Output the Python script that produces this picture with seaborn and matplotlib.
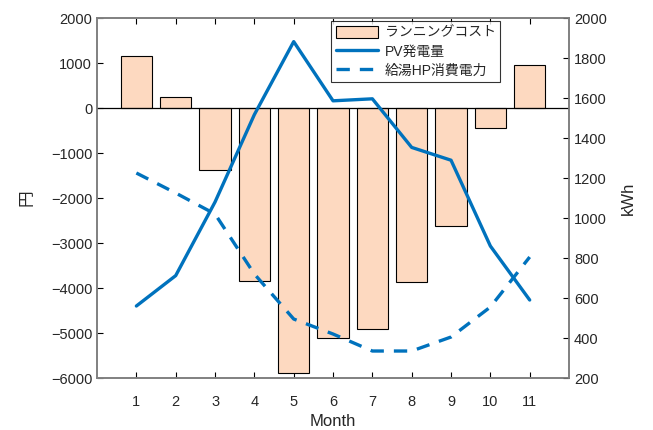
import matplotlib
matplotlib.use('Agg')
import matplotlib.pyplot as plt
import matplotlib.patches as mpatches
import matplotlib.lines as mlines
import seaborn as sns
import pandas as pd
import numpy as np

# data
months = [1, 2, 3, 4, 5, 6, 7, 8, 9, 10, 11]
running_cost = [1160, 250, -1370, -3850, -5880, -5120, -4900, -3870, -2630, -440, 960]   # 円
pv_kwh = [560, 712, 1080, 1517, 1882, 1586, 1596, 1353, 1289, 860, 590]                  # kWh
hp_kwh = [1225, 1125, 1020, 720, 495, 420, 335, 335, 405, 555, 805]                       # kWh

df = pd.DataFrame({'Month': months, 'cost': running_cost, 'pv': pv_kwh, 'hp': hp_kwh})

sns.set_style('white')
plt.rcParams['font.family'] = ['Liberation Sans', 'Noto Sans CJK JP', 'DejaVu Sans']

bar_color = '#FDD9C0'
line_color = '#0072BD'
spine_color = '#808080'

fig = plt.figure(figsize=(6.53, 4.30), dpi=100)
ax = fig.add_axes([0.1486, 0.1209, 0.7228, 0.8372])

sns.barplot(data=df, x='Month', y='cost', native_scale=True, width=0.8,
            color=bar_color, edgecolor='black', linewidth=0.8, saturation=1,
            errorbar=None, ax=ax)
ax.axhline(0, color='black', lw=0.9, zorder=3)

ax2 = ax.twinx()
sns.lineplot(data=df, x='Month', y='pv', color=line_color, lw=2.4, ax=ax2)
sns.lineplot(data=df, x='Month', y='hp', color=line_color, lw=2.4, ax=ax2)
ax2.lines[1].set_dashes([4, 3])

ax.set_xlim(0, 12)
ax.set_ylim(-6000, 2000)
ax2.set_ylim(200, 2000)
ax.set_xticks(months)
ax.set_yticks(np.arange(-6000, 2001, 1000))
ax2.set_yticks(np.arange(200, 2001, 200))

ax.set_xlabel('Month', fontsize=12, labelpad=4)
ax.set_ylabel('円', fontsize=12, labelpad=12)
ax2.set_ylabel('kWh', fontsize=12, labelpad=10)

ax.tick_params(axis='x', direction='in', top=True, bottom=True, length=4,
               labelsize=10.5, color='black', pad=12)
ax.tick_params(axis='y', direction='in', left=True, right=False, length=4,
               labelsize=10.5, color='black')
ax2.tick_params(axis='y', direction='in', right=True, length=4, labelsize=10.5, color='black')

for a in (ax, ax2):
    for s in a.spines.values():
        s.set_color(spine_color)
        s.set_linewidth(1.2)

handles = [
    mpatches.Patch(facecolor=bar_color, edgecolor='black', linewidth=0.8, label='ランニングコスト'),
    mlines.Line2D([], [], color=line_color, lw=2.4, label='PV発電量'),
    mlines.Line2D([], [], color=line_color, lw=2.4, dashes=[4, 3], label='給湯HP消費電力'),
]
leg = ax2.legend(handles=handles, loc='upper left', bbox_to_anchor=(0.496, 0.992),
                 fontsize=10, frameon=True, fancybox=False, edgecolor='black',
                 borderpad=0.35, labelspacing=0.35, handlelength=3.0, handleheight=0.9,
                 handletextpad=0.5, borderaxespad=0)
leg.get_frame().set_linewidth(0.8)

fig.savefig('out.png', dpi=100)
